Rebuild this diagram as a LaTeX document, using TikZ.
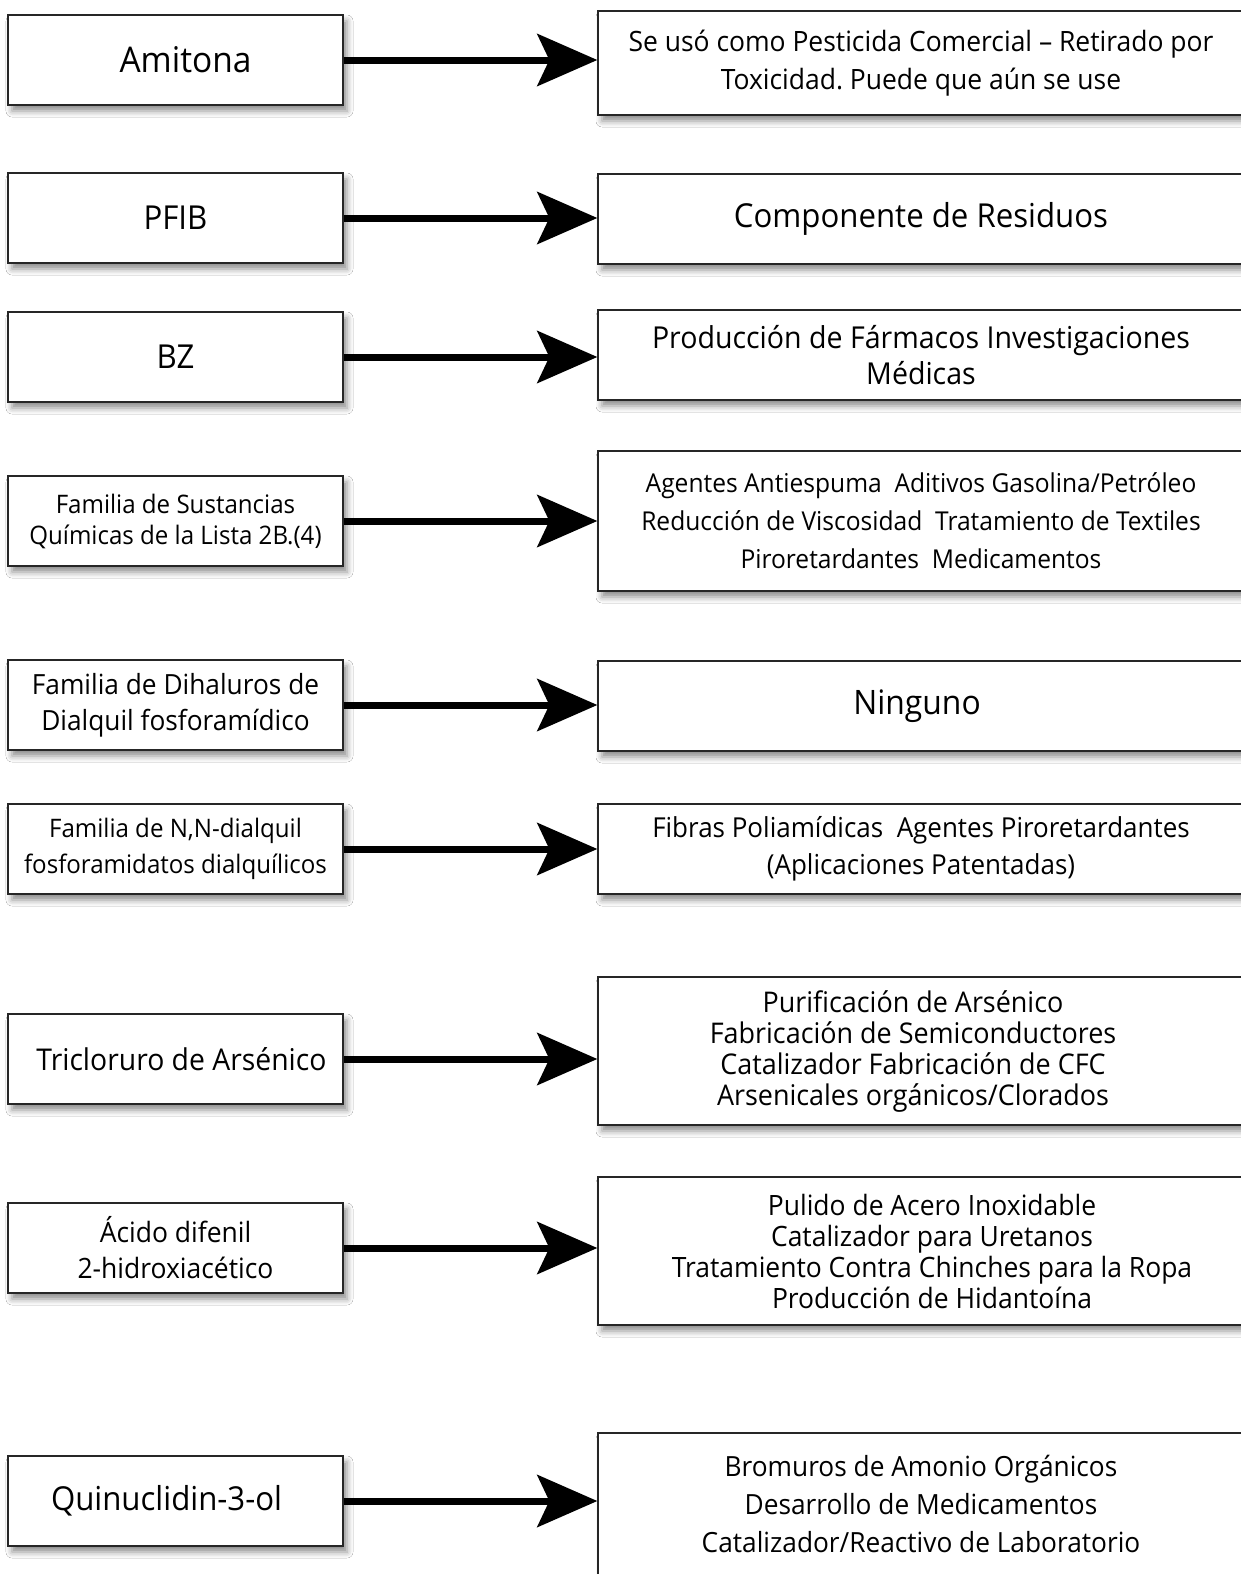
\documentclass[tikz,border=0pt]{standalone}
\usepackage{fontspec}
\setmainfont{Open Sans}[FakeStretch=0.945]
\frenchspacing
\usetikzlibrary{arrows.meta,shadows.blur}

\tikzset{
  box/.style={draw=black!85, line width=1.3pt, fill=white, inner sep=0pt, align=center,
    blur shadow={shadow xshift=4pt, shadow yshift=-6pt, shadow blur radius=6pt, shadow opacity=45}},
  lbox/.style={box, minimum width=335pt, minimum height=90pt},
  rbox/.style={box, minimum width=646pt},
  link/.style={line width=7pt, -{Stealth[length=60pt,width=52pt,inset=12pt]}},
  fs/.style 2 args={font=\fontsize{#1}{#2}\selectfont},
}
% nudge a line sideways inside its box
\newcommand\padL[1]{\kern#1}
\newcommand\padR[1]{\kern#1}

\begin{document}
\begin{tikzpicture}[x=1pt,y=-1pt]
\useasboundingbox (0,0) rectangle (1241,1574);
\fill[white] (0,0) rectangle (1241,1574);

% row 1
\node[lbox, fs={35.4}{40}] (l1) at (175.5,60) {\padL{20pt}Amitona};
\node[rbox, minimum height=104pt, fs={28}{38}] (r1) at (921,63)
  {Se usó como Pesticida Comercial – Retirado por\\Toxicidad. Puede que aún se use};
\draw[link] (l1.east) -- (l1.east -| r1.west);

% row 2
\node[lbox, fs={33}{40}] (l2) at (175.5,218) {PFIB};
\node[rbox, minimum height=90pt, fs={33}{40}] (r2) at (921,219) {Componente de Residuos};
\draw[link] (l2.east) -- (l2.east -| r2.west);

% row 3
\node[lbox, fs={33}{40}] (l3) at (175.5,357) {BZ};
\node[rbox, minimum height=90pt, fs={30.2}{36}] (r3) at (921,355)
  {Producción de Fármacos Investigaciones\\Médicas};
\draw[link] (l3.east) -- (l3.east -| r3.west);

% row 4
\node[lbox, fs={25.5}{31}] (l4) at (175.5,521) {Familia de Sustancias\\Químicas de la Lista 2B.(4)};
\node[rbox, minimum height=140pt, fs={26}{38}] (r4) at (921,521)
  {Agentes Antiespuma~ Aditivos Gasolina/Petróleo\\Reducción de Viscosidad~ Tratamiento de Textiles\\Piroretardantes~ Medicamentos};
\draw[link] (l4.east) -- (l4.east -| r4.west);

% row 5
\node[lbox, fs={27.8}{36}] (l5) at (175.5,705) {Familia de Dihaluros de\\Dialquil fosforamídico};
\node[rbox, minimum height=90pt, fs={33.7}{40}] (r5) at (921,706) {Ninguno\padR{8pt}};
\draw[link] (l5.east) -- (l5.east -| r5.west);

% row 6
\node[lbox, fs={25.5}{36}] (l6) at (175.5,849) {Familia de N,N-dialquil\\fosforamidatos dialquílicos};
\node[rbox, minimum height=90pt, fs={27.5}{37}] (r6) at (921,849)
  {Fibras Poliamídicas~ Agentes Piroretardantes\\(Aplicaciones Patentadas)};
\draw[link] (l6.east) -- (l6.east -| r6.west);

% row 7
\node[lbox, fs={30}{36}] (l7) at (175.5,1059) {\padL{12pt}Tricloruro de Arsénico};
\node[rbox, minimum height=148pt, fs={28.5}{31}] (r7) at (921,1051)
  {Purificación de Arsénico\padR{16pt}\\Fabricación de Semiconductores\padR{16pt}\\Catalizador Fabricación de CFC\padR{16pt}\\Arsenicales orgánicos/Clorados\padR{16pt}};
\draw[link] (l7.east) -- (l7.east -| r7.west);

% row 8
\node[lbox, fs={28}{36}] (l8) at (175.5,1248) {Ácido difenil\\2-hidroxiacético};
\node[rbox, minimum height=148pt, fs={28}{31}] (r8) at (921,1251)
  {\padL{22pt}Pulido de Acero Inoxidable\\\padL{22pt}Catalizador para Uretanos\\\padL{22pt}Tratamiento Contra Chinches para la Ropa\\\padL{22pt}Producción de Hidantoína};
\draw[link] (l8.east) -- (l8.east -| r8.west);

% row 9: the right box runs past the lower edge
\node[lbox, fs={33}{40}] (l9) at (175.5,1501) {Quinuclidin-3-ol\padR{18pt}};
\node[rbox, minimum height=170pt] (r9) at (921,1518) {};
\node[fs={27.8}{38}, align=center] (r9t) at (921,1504)
  {Bromuros de Amonio Orgánicos\\Desarrollo de Medicamentos\\Catalizador/Reactivo de Laboratorio};
\draw[link] (l9.east) -- (l9.east -| r9.west);
\end{tikzpicture}
\end{document}
